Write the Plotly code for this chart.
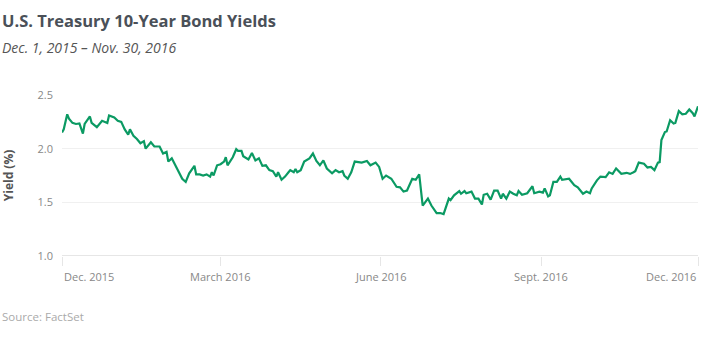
import plotly.graph_objects as go

dates = [
    "2015-12-01", "2015-12-02", "2015-12-04", "2015-12-05", "2015-12-07", "2015-12-09", "2015-12-11",
    "2015-12-13", "2015-12-14", "2015-12-17", "2015-12-18", "2015-12-21", "2015-12-24", "2015-12-27",
    "2015-12-28", "2015-12-31", "2016-01-02", "2016-01-04", "2016-01-06", "2016-01-08", "2016-01-09",
    "2016-01-11", "2016-01-13", "2016-01-15", "2016-01-17", "2016-01-18", "2016-01-21", "2016-01-23",
    "2016-01-26", "2016-01-28", "2016-01-30", "2016-01-31", "2016-02-02", "2016-02-04", "2016-02-06",
    "2016-02-08", "2016-02-10", "2016-02-12", "2016-02-15", "2016-02-16", "2016-02-18", "2016-02-20",
    "2016-02-22", "2016-02-24", "2016-02-25", "2016-02-26", "2016-02-28", "2016-03-01", "2016-03-03",
    "2016-03-04", "2016-03-05", "2016-03-08", "2016-03-10", "2016-03-11", "2016-03-13", "2016-03-14",
    "2016-03-17", "2016-03-19", "2016-03-21", "2016-03-23", "2016-03-25", "2016-03-27", "2016-03-29",
    "2016-03-31", "2016-04-02", "2016-04-03", "2016-04-05", "2016-04-07", "2016-04-09", "2016-04-10",
    "2016-04-12", "2016-04-13", "2016-04-14", "2016-04-16", "2016-04-18", "2016-04-21", "2016-04-23",
    "2016-04-25", "2016-04-27", "2016-04-29", "2016-05-01", "2016-05-04", "2016-05-06", "2016-05-08",
    "2016-05-10", "2016-05-11", "2016-05-13", "2016-05-15", "2016-05-17", "2016-05-21", "2016-05-24",
    "2016-05-26", "2016-05-29", "2016-05-31", "2016-06-02", "2016-06-04", "2016-06-07", "2016-06-10",
    "2016-06-12", "2016-06-14", "2016-06-16", "2016-06-19", "2016-06-21", "2016-06-23", "2016-06-25",
    "2016-06-28", "2016-06-30", "2016-07-03", "2016-07-05", "2016-07-07", "2016-07-10", "2016-07-11",
    "2016-07-13", "2016-07-16", "2016-07-17", "2016-07-19", "2016-07-20", "2016-07-23", "2016-07-25",
    "2016-07-27", "2016-07-29", "2016-07-30", "2016-08-01", "2016-08-03", "2016-08-05", "2016-08-07",
    "2016-08-09", "2016-08-10", "2016-08-12", "2016-08-14", "2016-08-16", "2016-08-18", "2016-08-19",
    "2016-08-21", "2016-08-24", "2016-08-27", "2016-08-28", "2016-08-31", "2016-09-02", "2016-09-03",
    "2016-09-05", "2016-09-06", "2016-09-08", "2016-09-10", "2016-09-12", "2016-09-13", "2016-09-17",
    "2016-09-20", "2016-09-22", "2016-09-25", "2016-09-27", "2016-09-29", "2016-09-30", "2016-10-03",
    "2016-10-05", "2016-10-08", "2016-10-10", "2016-10-12", "2016-10-14", "2016-10-17", "2016-10-20",
    "2016-10-22", "2016-10-24", "2016-10-25", "2016-10-27", "2016-10-30", "2016-11-01", "2016-11-03",
    "2016-11-05", "2016-11-07", "2016-11-08", "2016-11-09", "2016-11-11", "2016-11-12", "2016-11-14",
    "2016-11-16", "2016-11-17", "2016-11-19", "2016-11-21", "2016-11-23", "2016-11-25", "2016-11-27",
    "2016-11-28", "2016-11-30",
]

yields = [
    2.15, 2.18, 2.32, 2.28, 2.24, 2.23, 2.235,
    2.14, 2.23, 2.30, 2.24, 2.20, 2.26, 2.24,
    2.31, 2.29, 2.26, 2.25, 2.18, 2.13, 2.18,
    2.12, 2.09, 2.05, 2.07, 2.00, 2.06, 2.02,
    2.02, 1.955, 1.97, 1.88, 1.91, 1.845, 1.77,
    1.72, 1.69, 1.77, 1.84, 1.76, 1.76, 1.75,
    1.76, 1.74, 1.78, 1.75, 1.845, 1.855, 1.88,
    1.92, 1.845, 1.92, 1.995, 1.98, 1.98, 1.93,
    1.90, 1.96, 1.89, 1.91, 1.84, 1.845, 1.80,
    1.79, 1.74, 1.78, 1.71, 1.74, 1.78, 1.80,
    1.78, 1.81, 1.78, 1.80, 1.88, 1.91, 1.955,
    1.885, 1.845, 1.89, 1.815, 1.77, 1.80, 1.78,
    1.79, 1.75, 1.72, 1.78, 1.88, 1.87, 1.885,
    1.845, 1.87, 1.83, 1.72, 1.75, 1.72, 1.645,
    1.64, 1.60, 1.61, 1.72, 1.71, 1.76, 1.47,
    1.535, 1.47, 1.40, 1.40, 1.39, 1.535, 1.52,
    1.565, 1.605, 1.58, 1.605, 1.585, 1.60, 1.535,
    1.535, 1.48, 1.57, 1.58, 1.525, 1.61, 1.61,
    1.535, 1.58, 1.535, 1.60, 1.58, 1.565, 1.605,
    1.57, 1.585, 1.65, 1.585, 1.60, 1.59, 1.63,
    1.555, 1.565, 1.69, 1.69, 1.74, 1.71, 1.72,
    1.66, 1.64, 1.58, 1.60, 1.585, 1.63, 1.705,
    1.74, 1.735, 1.78, 1.765, 1.815, 1.765, 1.775,
    1.765, 1.78, 1.79, 1.87, 1.86, 1.825, 1.83,
    1.80, 1.87, 1.875, 2.08, 2.155, 2.16, 2.265,
    2.235, 2.24, 2.35, 2.32, 2.325, 2.365, 2.33,
    2.30, 2.395,
]

tick_dates = ["2015-12-01", "2016-03-01", "2016-06-01", "2016-09-01", "2016-11-30"]
tick_labels = ["Dec. 2015", "March 2016", "June 2016", "Sept. 2016", "Dec. 2016"]
tick_anchors = ["left", "center", "center", "center", "right"]

y_ticks = [1.0, 1.5, 2.0, 2.5]
y_tick_labels = ["1.0", "1.5", "2.0", "2.5"]

title_text = "U.S. Treasury 10-Year Bond Yields"
subtitle_text = "Dec. 1, 2015 \u2013 Nov. 30, 2016"
source_text = "Source: FactSet"
y_title = "Yield (%)"

FONT = "Open Sans"
W, H = 708, 342
ML, MR, MT, MB = 62, 10, 95, 86
PW, PH = W - ML - MR, H - MT - MB


def px_x(p):
    return (p - ML) / PW


def px_y(p):
    return (H - MB - p) / PH


fig = go.Figure()
fig.add_trace(go.Scatter(
    x=dates, y=yields, mode="lines",
    line=dict(color="#0b9a63", width=2.2),
    hoverinfo="skip", showlegend=False,
))

fig.update_layout(
    width=W, height=H,
    margin=dict(l=ML, r=MR, t=MT, b=MB, autoexpand=False),
    paper_bgcolor="white", plot_bgcolor="white",
    font=dict(family=FONT, size=11, color="#888888"),
    xaxis=dict(
        type="date",
        range=["2015-12-01", "2016-11-30"],
        tickvals=tick_dates,
        showticklabels=False,
        ticks="outside", ticklen=9, tickwidth=1, tickcolor="#e6e6e6",
        showgrid=False, zeroline=False, showline=False,
        automargin=False,
    ),
    yaxis=dict(
        range=[1.0, 2.5],
        tickvals=y_ticks, ticktext=y_tick_labels,
        showgrid=True, gridcolor="#f0f0f0", gridwidth=1,
        zeroline=False, showline=False,
        ticks="", ticklabelstandoff=8,
        automargin=False,
        tickfont=dict(family=FONT, size=11, color="#888888"),
        title=dict(text="<b>" + y_title + "</b>", standoff=22,
                   font=dict(family=FONT, size=12, color="#555555")),
    ),
    shapes=[dict(type="line", xref="paper", yref="y", x0=0, x1=1, y0=1.0, y1=1.0,
                 line=dict(color="#e6e6e6", width=2))],
)

annotations = [
    dict(text="<b>" + title_text + "</b>", xref="paper", yref="paper",
         x=px_x(0), y=px_y(7), xanchor="left", yanchor="top", showarrow=False,
         font=dict(family=FONT, size=16.5, color="#4a5058")),
    dict(text="<i>" + subtitle_text + "</i>", xref="paper", yref="paper",
         x=px_x(0), y=px_y(36), xanchor="left", yanchor="top", showarrow=False,
         font=dict(family=FONT, size=14, color="#555555")),
    dict(text=source_text, xref="paper", yref="paper",
         x=px_x(0), y=px_y(326), xanchor="left", yanchor="bottom", showarrow=False,
         font=dict(family=FONT, size=11.5, color="#aaaaaa")),
]
for td, tl, ta in zip(tick_dates, tick_labels, tick_anchors):
    annotations.append(dict(text=tl, xref="x", yref="paper", x=td, y=0,
                            xanchor=ta, yanchor="top", yshift=-11, showarrow=False,
                            font=dict(family=FONT, size=11, color="#888888")))
fig.update_layout(annotations=annotations)

fig.write_html("out.html")
